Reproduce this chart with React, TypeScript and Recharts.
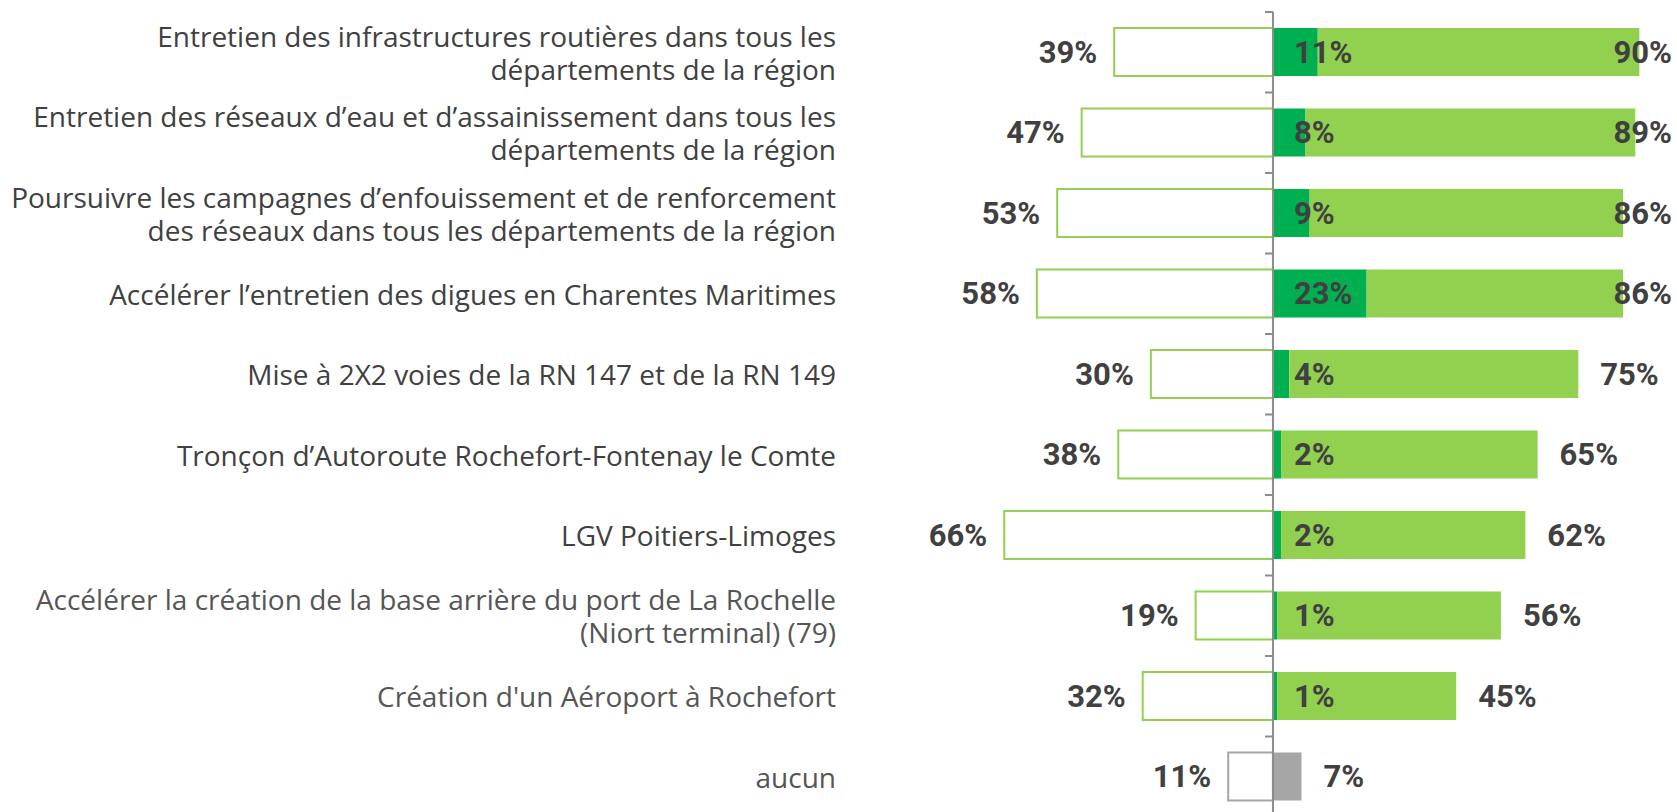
import { BarChart, Bar, XAxis, YAxis, Cell, LabelList, ReferenceLine } from 'recharts'

const categories = [
  'Entretien des infrastructures routières dans tous les\ndépartements de la région',
  'Entretien des réseaux d’eau et d’assainissement dans tous les\ndépartements de la région',
  'Poursuivre les campagnes d’enfouissement et de renforcement\ndes réseaux dans tous les départements de la région',
  'Accélérer l’entretien des digues en Charentes Maritimes',
  'Mise à 2X2 voies de la RN 147 et de la RN 149 ',
  'Tronçon d’Autoroute Rochefort-Fontenay le Comte',
  'LGV Poitiers-Limoges',
  'Accélérer la création de la base arrière du port de La Rochelle\n(Niort terminal) (79)',
  'Création d\'un Aéroport à Rochefort',
  'aucun',
]
const againstPct = [39, 47, 53, 58, 30, 38, 66, 19, 32, 11]
const priorityPct = [11, 8, 9, 23, 4, 2, 2, 1, 1, null]
const totalPct = [90, 89, 86, 86, 75, 65, 62, 56, 45, 7]

const W = 1677
const H = 830
const TOP = 12
const BOTTOM = 817
const Y_AXIS_W = 988
const X_MIN = -70
const X_MAX = 99
const PLOT_W = W - 1 - Y_AXIS_W
const ZERO_X = Y_AXIS_W + ((0 - X_MIN) / (X_MAX - X_MIN)) * PLOT_W
const BAND = (BOTTOM - TOP) / categories.length
const LABEL_X = 836
const RIGHT_LIMIT = 1672

const GREEN = '#92D050'
const DARK_GREEN = '#00B050'
const GREY = '#A6A6A6'
const TEXT = '#404040'
const CAT_FONT = '"Open Sans", "Noto Sans", sans-serif'
const VAL_FONT = 'Roboto, "Open Sans", sans-serif'

const data = categories.map((name, i) => ({
  name,
  against: -againstPct[i],
  priority: priorityPct[i],
  rest: totalPct[i] - (priorityPct[i] ?? 0),
  total: totalPct[i],
  label: againstPct[i],
}))

function CategoryTick({ y, payload, index }: any) {
  const lines = String(payload.value).split('\n')
  const lineH = 33
  const start = -((lines.length - 1) * lineH) / 2
  const last = index === categories.length - 1
  return (
    <g>
      <line x1={ZERO_X - 8} x2={ZERO_X} y1={y - BAND / 2} y2={y - BAND / 2} stroke="#8C8C8C" strokeWidth={2} />
      {last && (
        <line x1={ZERO_X - 8} x2={ZERO_X} y1={y + BAND / 2} y2={y + BAND / 2} stroke="#8C8C8C" strokeWidth={2} />
      )}
      {lines.map((l, k) => (
        <text
          key={k}
          x={LABEL_X}
          y={y + start + k * lineH}
          textAnchor="end"
          dominantBaseline="central"
          fontFamily={CAT_FONT}
          fontSize={28}
          fill={index >= 7 ? '#555555' : TEXT}
        >
          {l}
        </text>
      ))}
    </g>
  )
}

function valueText(x: number, y: number, value: string, anchor: 'start' | 'end') {
  return (
    <text
      x={x}
      y={y}
      textAnchor={anchor}
      dominantBaseline="central"
      fontFamily={VAL_FONT}
      fontWeight="bold"
      fontSize={31}
      fill={TEXT}
    >
      {value}
    </text>
  )
}

function AgainstLabel(props: any) {
  const { x, y, width, height, value } = props
  const left = Math.min(x, x + width)
  return valueText(left - 17, y + height / 2, `${value}%`, 'end')
}

function PriorityLabel(props: any) {
  const { x, y, width, height, value } = props
  if (value == null) return null
  const left = Math.min(x, x + width)
  return valueText(left + 21, y + height / 2, `${value}%`, 'start')
}

function TotalLabel(props: any) {
  const { x, y, width, height, value } = props
  const end = Math.max(x, x + width)
  const txt = `${value}%`
  const w = txt.length * 18
  if (end + 22 + w > RIGHT_LIMIT) return valueText(RIGHT_LIMIT, y + height / 2, txt, 'end')
  return valueText(end + 22, y + height / 2, txt, 'start')
}

export default function App() {
  return (
    <div style={{ position: 'absolute', left: 0, top: 0, background: '#fff' }}>
      <BarChart
        width={W}
        height={H}
        data={data}
        layout="vertical"
        stackOffset="sign"
        margin={{ top: TOP, right: 1, bottom: H - BOTTOM, left: 0 }}
      >
        <XAxis type="number" domain={[X_MIN, X_MAX]} allowDataOverflow hide />
        <YAxis
          type="category"
          dataKey="name"
          width={Y_AXIS_W}
          axisLine={false}
          tickLine={false}
          tick={<CategoryTick />}
          interval={0}
        />
        <Bar dataKey="against" stackId="s" barSize={48} fill="#ffffff" strokeWidth={2} isAnimationActive={false}>
          {data.map((d, i) => (
            <Cell key={i} stroke={d.priority == null ? GREY : GREEN} />
          ))}
          <LabelList dataKey="label" content={<AgainstLabel />} />
        </Bar>
        <Bar dataKey="priority" stackId="s" barSize={48} fill={DARK_GREEN} isAnimationActive={false}>
          <LabelList dataKey="priority" content={<PriorityLabel />} />
        </Bar>
        <Bar dataKey="rest" stackId="s" barSize={48} fill={GREEN} isAnimationActive={false}>
          {data.map((d, i) => (
            <Cell key={i} fill={d.priority == null ? GREY : GREEN} />
          ))}
          <LabelList dataKey="total" content={<TotalLabel />} />
        </Bar>
        <ReferenceLine x={0} stroke="#8C8C8C" strokeWidth={2} />
      </BarChart>
    </div>
  )
}
